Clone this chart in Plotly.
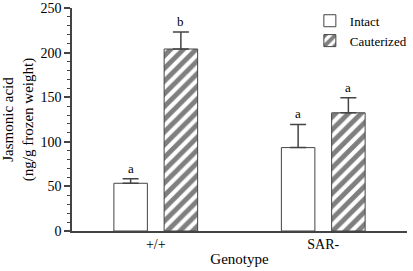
import plotly.graph_objects as go

# Jasmonic acid levels by genotype
genotypes = ["+/+", "SAR-"]
intact = [53.5, 93.5]
intact_err = [5, 26]
cauterized = [204, 132.5]
cauterized_err = [19, 17]
intact_letters = ["a", "a"]
cauterized_letters = ["b", "a"]

LINE = "#444444"
FONT = "Liberation Serif, Times New Roman, serif"

fig = go.Figure()

fig.add_trace(go.Bar(
    name="Intact",
    x=genotypes,
    y=intact,
    marker=dict(color="white", line=dict(color=LINE, width=1)),
    error_y=dict(type="data", array=intact_err, arrayminus=[0] * len(intact_err),
                 symmetric=False, color=LINE, thickness=1.5, width=8),
))

fig.add_trace(go.Bar(
    name="Cauterized",
    x=genotypes,
    y=cauterized,
    marker=dict(color="white", line=dict(color=LINE, width=1),
                pattern=dict(shape="/", fgcolor="black", bgcolor="white",
                             size=9, solidity=0.55)),
    error_y=dict(type="data", array=cauterized_err, arrayminus=[0] * len(cauterized_err),
                 symmetric=False, color=LINE, thickness=1.5, width=8),
))

# significance letters above the error bars
for i in range(len(genotypes)):
    for off, vals, errs, letters in [(-0.15, intact, intact_err, intact_letters),
                                     (0.15, cauterized, cauterized_err, cauterized_letters)]:
        fig.add_annotation(x=i + off, y=vals[i] + errs[i], text=letters[i],
                           showarrow=False, yanchor="bottom", yshift=1,
                           font=dict(family=FONT, size=13, color="black"))

fig.update_layout(
    width=413,
    height=271,
    margin=dict(l=72, r=1, t=5, b=40),
    plot_bgcolor="white",
    paper_bgcolor="white",
    font=dict(family=FONT, size=13, color="black"),
    barmode="group",
    bargap=0.4,
    bargroupgap=1 / 3,
    showlegend=True,
    legend=dict(x=0.71, y=1.01, xanchor="left", yanchor="top",
                bgcolor="rgba(0,0,0,0)", font=dict(family=FONT, size=13, color="black"),
                tracegroupgap=0, itemwidth=30),
)

fig.update_xaxes(
    range=[-0.5, 1.5],
    showline=True, linecolor=LINE, linewidth=1.5,
    ticks="", showgrid=False,
    title=dict(text="Genotype", font=dict(family=FONT, size=15, color="black"), standoff=3),
    tickfont=dict(family=FONT, size=14, color="black"),
    ticklabelstandoff=-1,
)

fig.update_yaxes(
    range=[0, 250],
    dtick=50,
    showline=True, linecolor=LINE, linewidth=1.5,
    ticks="outside", ticklen=6, tickcolor=LINE, tickwidth=1.5,
    minor=dict(dtick=10, ticks="outside", ticklen=3, tickcolor=LINE, tickwidth=1),
    showgrid=False, zeroline=False,
    ticklabeloverflow="allow",
    title=dict(text="Jasmonic acid<br>(ng/g frozen weight)",
               font=dict(family=FONT, size=15, color="black"), standoff=6),
    tickfont=dict(family=FONT, size=14, color="black"),
)

# page has a default body margin; remove it so the figure sits at the window corner
fig.write_html("out.html", config={"displayModeBar": False},
               post_script="document.body.style.margin='0';")
